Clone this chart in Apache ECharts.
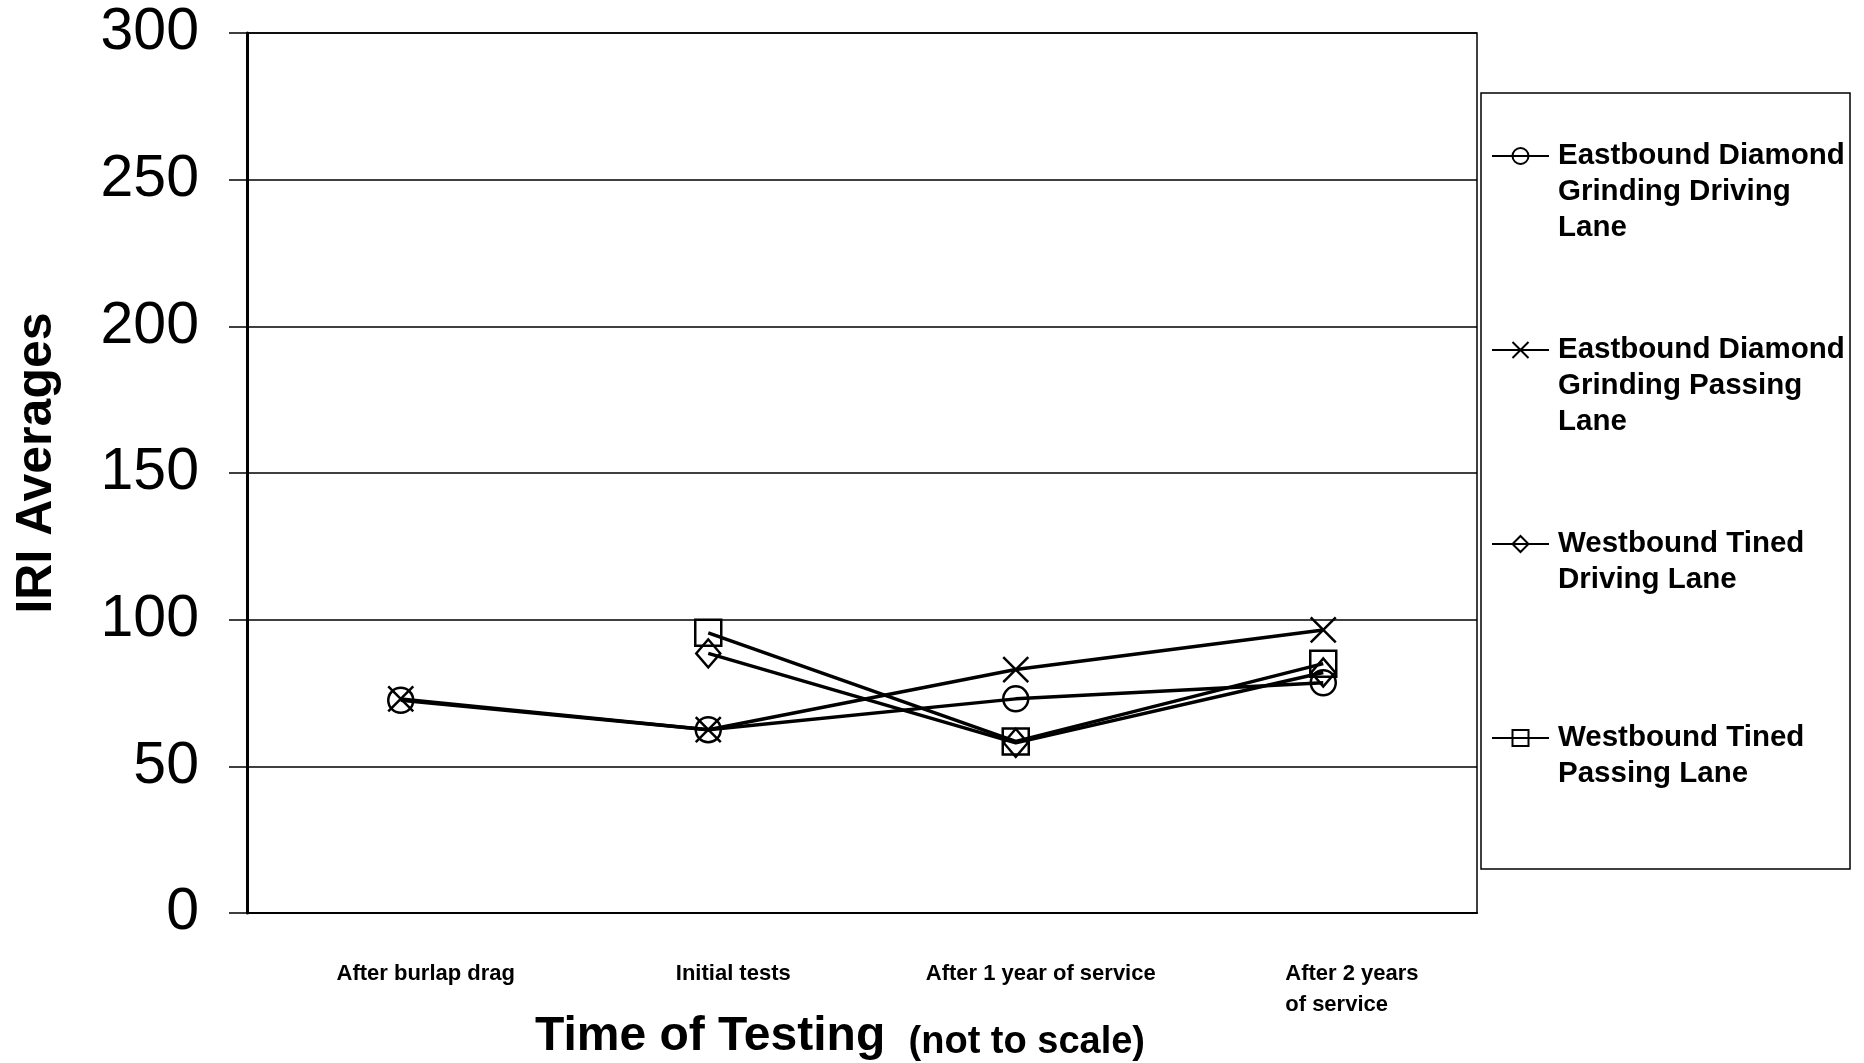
<!DOCTYPE html>
<html>
<head>
<meta charset="utf-8">
<script src="https://cdn.jsdelivr.net/npm/echarts@6/dist/echarts.min.js"></script>
<style>
  html, body { margin: 0; padding: 0; background: #fff; }
  #chart { width: 1864px; height: 1063px; }
</style>
</head>
<body>
<div id="chart"></div>
<script>
// categories on the x axis (not to scale)
var categories = ['After burlap drag', 'Initial tests', 'After 1 year of service', 'After 2 years\nof service'];
var yTicks = [0, 50, 100, 150, 200, 250, 300];

// IRI averages
var ebDrivingVals = [72.5, 62.5, 73, 78.5];
var ebPassingVals = [73, 62.5, 83, 96.5];
var wbDrivingVals = [null, 88.5, 58, 82];
var wbPassingVals = [null, 95.5, 58.5, 85];

var seriesNames = [
  'Eastbound Diamond\nGrinding Driving\nLane',
  'Eastbound Diamond\nGrinding Passing\nLane',
  'Westbound Tined\nDriving Lane',
  'Westbound Tined\nPassing Lane'
];

var FONT = '"Liberation Sans", Arial, sans-serif';

function mkSeries(name, vals, symbol, size) {
  return {
    name: name,
    type: 'line',
    data: vals,
    symbol: symbol,
    symbolSize: size,
    connectNulls: false,
    lineStyle: { color: '#000', width: 3.5 },
    itemStyle: { color: 'rgba(0,0,0,0)', borderColor: '#000', borderWidth: 2.5 },
    emphasis: { disabled: true },
    animation: false
  };
}

var option = {
  backgroundColor: '#fff',
  animation: false,
  grid: {
    left: 247, right: 387, top: 33, bottom: 150,
    containLabel: false, outerBoundsMode: 'none',
    show: true, borderColor: '#000', borderWidth: 1.5
  },
  legend: {
    orient: 'vertical',
    left: 1491,
    top: 66,
    padding: 0,
    itemGap: 14,
    itemWidth: 57,
    itemHeight: 20,
    data: seriesNames,
    // first text line sits level with the icon, every entry gets the same height
    formatter: function (name) {
      var lines = name.split('\n');
      while (lines.length < 3) lines.push(' ');
      return ' \n \n' + lines.join('\n');
    },
    textStyle: {
      fontFamily: FONT,
      fontWeight: 'bold',
      fontSize: 29.5,
      lineHeight: 36,
      color: '#000',
      padding: [0, 0, 0, 4]
    },
    selectedMode: false
  },
  graphic: [{
    type: 'rect',
    shape: { x: 1481, y: 93, width: 369, height: 776 },
    style: { fill: 'none', stroke: '#000', lineWidth: 1.5 },
    z: -1
  }],
  xAxis: {
    type: 'category',
    data: categories,
    boundaryGap: true,
    axisLine: { lineStyle: { color: '#000', width: 2 } },
    axisTick: { show: false },
    axisLabel: {
      interval: 0,
      hideOverlap: false,
      margin: 45,
      color: '#000',
      formatter: function (v, i) {
        if (i === 3) {
          return v.split('\n').map(function (s) { return '{l|' + s + '}'; }).join('\n');
        }
        return '{c|' + v + '}';
      },
      rich: {
        c: { fontFamily: FONT, fontWeight: 'bold', fontSize: 22, lineHeight: 31, color: '#000', padding: [0, 0, 0, 50] },
        l: { fontFamily: FONT, fontWeight: 'bold', fontSize: 22, lineHeight: 31, color: '#000', width: 150, align: 'left', padding: [0, 0, 0, 74] }
      }
    },
    name: '{a|Time of Testing}       {b|(not to scale)}',
    nameLocation: 'middle',
    nameGap: 99,
    nameMoveOverlap: false,
    nameTextStyle: {
      padding: [0, 44, 0, 0],
      rich: {
        a: { fontFamily: FONT, fontWeight: 'bold', fontSize: 48, color: '#000' },
        b: { fontFamily: FONT, fontWeight: 'bold', fontSize: 38, color: '#000', padding: [12, 0, 0, 0] }
      }
    }
  },
  yAxis: {
    type: 'value',
    min: yTicks[0],
    max: yTicks[yTicks.length - 1],
    interval: 50,
    axisLine: { show: true, lineStyle: { color: '#000', width: 3 } },
    axisTick: { show: true, inside: false, length: 18, lineStyle: { color: '#000', width: 1.5 } },
    splitLine: { show: true, lineStyle: { color: '#000', width: 1.5 } },
    axisLabel: {
      margin: 48,
      fontFamily: FONT,
      fontSize: 59,
      color: '#000'
    },
    name: 'IRI Averages',
    nameLocation: 'middle',
    nameRotate: 90,
    nameGap: 185,
    nameMoveOverlap: false,
    nameTextStyle: { fontFamily: FONT, fontWeight: 'bold', fontSize: 50, color: '#000', padding: [0, 0, 0, 20] }
  },
  series: [
    mkSeries(seriesNames[0], ebDrivingVals, 'circle', 25),
    mkSeries(seriesNames[1], ebPassingVals, 'path://M0,0L10,10M10,0L0,10', 25),
    mkSeries(seriesNames[2], wbDrivingVals, 'diamond', [24, 28]),
    mkSeries(seriesNames[3], wbPassingVals, 'rect', 26)
  ]
};

var chart = echarts.init(document.getElementById('chart'), null, { renderer: 'canvas' });
chart.setOption(option);
</script>
</body>
</html>
